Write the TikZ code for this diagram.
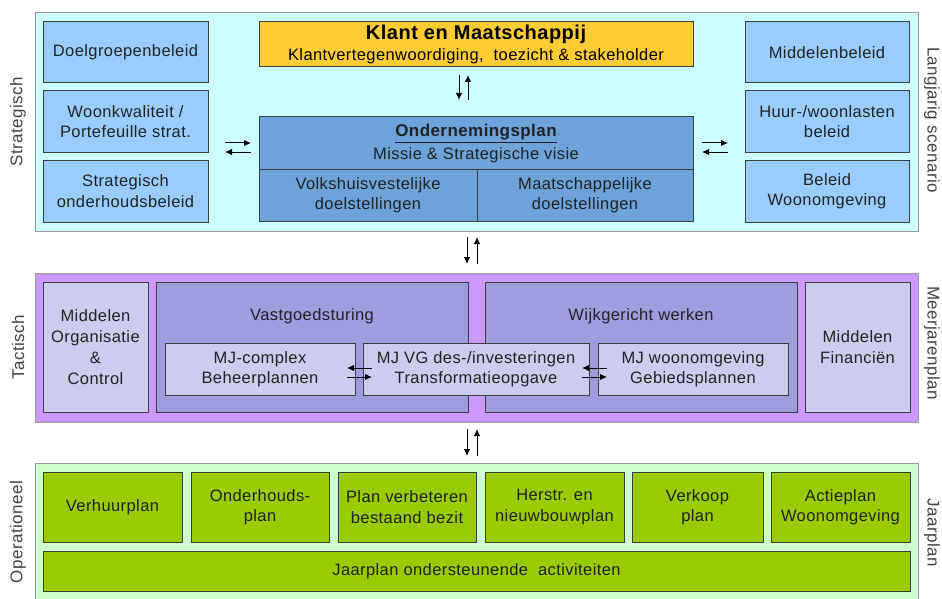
\documentclass[tikz,border=0pt]{standalone}
\usepackage{fontspec}
\setmainfont{Liberation Sans}[LetterSpace=2.5]
\usetikzlibrary{arrows.meta}
\definecolor{strbg}{HTML}{CCFFFF}
\definecolor{strbox}{HTML}{99CCFF}
\definecolor{planbox}{HTML}{6CA3DA}
\definecolor{klant}{HTML}{FFCC33}
\definecolor{tacbg}{HTML}{CC99FF}
\definecolor{tacmid}{HTML}{9D9DE0}
\definecolor{taclight}{HTML}{CCCCEE}
\definecolor{opbg}{HTML}{CCFFCC}
\definecolor{opbox}{HTML}{99CC00}
\definecolor{ink}{HTML}{222222}
\definecolor{edge}{HTML}{3C3C3C}
\tikzset{
  layer/.style={draw=gray!80, line width=1pt, inner sep=0pt},
  box/.style={draw=edge, line width=1pt, inner sep=0pt, align=center,
    text=ink, font=\fontsize{16.5}{20.5}\selectfont},
  sidelabel/.style={text=ink!85, font=\fontsize{17}{20}\selectfont, inner sep=0pt},
  flow/.style={line width=1pt, -{Latex[length=7pt,width=6.5pt]}},
}
\begin{document}
\begin{tikzpicture}[x=1pt,y=-1pt]
\useasboundingbox (0,0) rectangle (942,599);
\clip (0,0) rectangle (942,599);

% ---------- strategic layer ----------
\node[layer, fill=strbg, minimum width=883, minimum height=218] (S) at (476.5,122) {};
\node[box, fill=strbox, minimum width=165, minimum height=61] (L1) at (125.5,52.5) {Doelgroepenbeleid};
\node[box, fill=strbox, minimum width=165, minimum height=61] (L2) at (125.5,121.5) {Woonkwaliteit /\\Portefeuille strat.};
\node[box, fill=strbox, minimum width=165, minimum height=62] (L3) at (125.5,191) {Strategisch\\onderhoudsbeleid};
\node[box, fill=strbox, minimum width=164, minimum height=61] (R1) at (827,52.5) {Middelenbeleid};
\node[box, fill=strbox, minimum width=164, minimum height=61] (R2) at (827,121.5) {Huur-/woonlasten\\beleid};
\node[box, fill=strbox, minimum width=164, minimum height=62] (R3) at (827,191) {Beleid\\Woonomgeving};

\node[box, fill=klant, minimum width=434, minimum height=45] (K) at (476,44.5) {};
\node[text=black, font=\fontsize{20}{23}\selectfont\bfseries, inner sep=0pt] (Kt) at (476,34) {Klant en Maatschappij};
\node[text=black, font=\fontsize{16.5}{20}\selectfont, inner sep=0pt] (Ks) at (476,56.5) {Klantvertegenwoordiging, \ toezicht \& stakeholder};

\node[box, fill=planbox, minimum width=434, minimum height=52] (OP) at (476,143) {};
\node[text=ink, font=\fontsize{17}{21}\selectfont\bfseries, inner sep=0pt] (OPt) at (476,133.5) {\underline{Ondernemingsplan}};
\node[text=ink, font=\fontsize{16.5}{20}\selectfont, inner sep=0pt] (OPs) at (476,155) {Missie \& Strategische visie};
\node[box, fill=planbox, minimum width=218, minimum height=52] (VD) at (368,195) {Volkshuisvestelijke\\doelstellingen};
\node[box, fill=planbox, minimum width=216, minimum height=52] (MD) at (585,195) {Maatschappelijke\\doelstellingen};

% arrow ends within the strategic layer
\coordinate (kdA) at (459,75);  \coordinate (kdB) at (459,100);
\coordinate (kuA) at (468,100); \coordinate (kuB) at (468,75);
\coordinate (lrA) at (225,143); \coordinate (lrB) at (251,143);
\coordinate (llA) at (251,152); \coordinate (llB) at (225,152);
\coordinate (rrA) at (702,143); \coordinate (rrB) at (728,143);
\coordinate (rlA) at (728,152); \coordinate (rlB) at (702,152);
\draw[flow] (kdA) -- (kdB);
\draw[flow] (kuA) -- (kuB);
\draw[flow] (lrA) -- (lrB);
\draw[flow] (llA) -- (llB);
\draw[flow] (rrA) -- (rrB);
\draw[flow] (rlA) -- (rlB);

% ---------- tactical layer ----------
\node[layer, fill=tacbg, minimum width=883, minimum height=149] (T) at (476.5,347.5) {};
\node[box, fill=taclight, minimum width=105, minimum height=130, font=\fontsize{16.5}{21}\selectfont] (MO) at (95.5,347)
  {Middelen\\Organisatie\\\&\\Control};
\node[box, fill=tacmid, minimum width=312, minimum height=130] (VG) at (312,347) {};
\node[box, fill=tacmid, minimum width=312, minimum height=130] (WW) at (641,347) {};
\node[box, fill=taclight, minimum width=105, minimum height=130] (MF) at (857.5,347) {Middelen\\Financiën};
\node[text=ink, font=\fontsize{16.5}{20}\selectfont, inner sep=0pt] (VGt) at (312,316) {Vastgoedsturing};
\node[text=ink, font=\fontsize{16.5}{20}\selectfont, inner sep=0pt] (WWt) at (641,316) {Wijkgericht werken};
\node[box, fill=taclight, minimum width=190, minimum height=52] (MJC) at (260,369) {MJ-complex\\Beheerplannen};
\node[box, fill=taclight, minimum width=226, minimum height=52] (MJV) at (476,369) {MJ VG des-/investeringen\\Transformatieopgave};
\node[box, fill=taclight, minimum width=190, minimum height=52] (MJW) at (693,369) {MJ woonomgeving\\Gebiedsplannen};

\coordinate (alA) at (372,368); \coordinate (alB) at (347,368);
\coordinate (arA) at (347,377); \coordinate (arB) at (372,377);
\coordinate (blA) at (607,368); \coordinate (blB) at (582,368);
\coordinate (brA) at (582,377); \coordinate (brB) at (607,377);
\draw[flow] (alA) -- (alB);
\draw[flow] (arA) -- (arB);
\draw[flow] (blA) -- (blB);
\draw[flow] (brA) -- (brB);

% arrows between the layers
\coordinate (stA) at (467,237); \coordinate (stB) at (467,264);
\coordinate (tsA) at (477,264); \coordinate (tsB) at (477,237);
\coordinate (toA) at (467,429); \coordinate (toB) at (467,456);
\coordinate (otA) at (477,456); \coordinate (otB) at (477,429);
\draw[flow] (stA) -- (stB);
\draw[flow] (tsA) -- (tsB);
\draw[flow] (toA) -- (toB);
\draw[flow] (otA) -- (otB);

% ---------- operational layer ----------
\node[layer, fill=opbg, minimum width=883, minimum height=142] (O) at (476.5,534) {};
\node[box, fill=opbox, minimum width=139, minimum height=70] (G1) at (112.5,507) {Verhuurplan};
\node[box, fill=opbox, minimum width=138, minimum height=70] (G2) at (260,507) {Onderhouds-\\plan};
\node[box, fill=opbox, minimum width=138, minimum height=70] (G3) at (407,507) {Plan verbeteren\\bestaand bezit};
\node[box, fill=opbox, minimum width=139, minimum height=70] (G4) at (554.5,507) {Herstr. en\\nieuwbouwplan};
\node[box, fill=opbox, minimum width=131, minimum height=70] (G5) at (697.5,507) {Verkoop\\plan};
\node[box, fill=opbox, minimum width=139, minimum height=70] (G6) at (840.5,507) {Actieplan\\Woonomgeving};
\node[box, fill=opbox, minimum width=867, minimum height=40] (JP) at (476.5,571) {Jaarplan ondersteunende \ activiteiten};

% ---------- side labels ----------
\node[sidelabel, rotate=90] (sl1) at (18,122) {Strategisch};
\node[sidelabel, rotate=90] (sl2) at (18,347) {Tactisch};
\node[sidelabel, rotate=90] (sl3) at (18,532) {Operationeel};
\node[sidelabel, rotate=-90] (sr1) at (932,120) {Langjarig scenario};
\node[sidelabel, rotate=-90] (sr2) at (932,343) {Meerjarenplan};
\node[sidelabel, rotate=-90] (sr3) at (932,533) {Jaarplan};
\end{tikzpicture}
\end{document}
